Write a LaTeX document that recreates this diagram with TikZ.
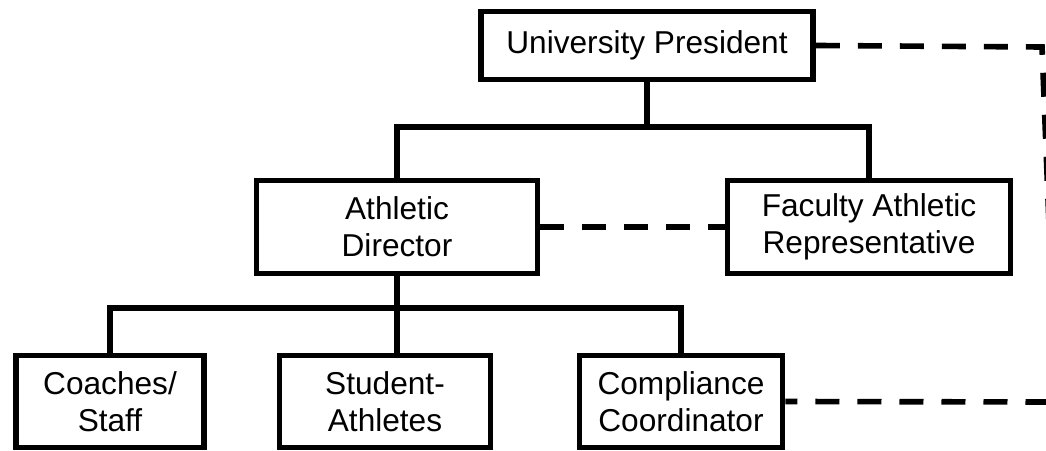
\documentclass[tikz,border=0pt]{standalone}
\usepackage{fontspec}
\setmainfont{Liberation Sans}
\usepackage{tikz}
\usetikzlibrary{positioning}

\tikzset{
    unit/.style={draw, line width=1.6pt, rectangle, align=center, inner sep=0pt,
                 font=\fontsize{9}{10.5}\selectfont},
    link/.style={line width=1.6pt, line cap=round},
    liaison/.style={line width=1.6pt, dash pattern=on 0.24cm off 0.18cm},
}

\begin{document}
\begin{tikzpicture}

\clip (0,0) rectangle (10.46,-4.51);

% ===========================
% Top: president
% ===========================
\node[unit, minimum width=3.32cm, minimum height=0.68cm] (pres) at (6.47,-0.455) {University President};

% ===========================
% Middle row
% ===========================
\node[unit, minimum width=2.81cm, minimum height=0.93cm] (ad) at (3.97,-2.27) {Athletic\\Director};
\node[unit, minimum width=2.83cm, minimum height=0.93cm] (far) at (8.69,-2.27) {Faculty Athletic\\Representative};

% ===========================
% Bottom row
% ===========================
\node[unit, minimum width=1.88cm, minimum height=0.92cm] (coach) at (1.10,-4.015) {Coaches/\\Staff};
\node[unit, minimum width=2.11cm, minimum height=0.92cm] (st) at (3.85,-4.015) {Student-\\Athletes};
\node[unit, minimum width=2.03cm, minimum height=0.92cm] (comp) at (6.81,-4.015) {Compliance\\Coordinator};

% Reporting lines
\coordinate (topbar) at (6.47,-1.27);
\draw[link] (pres.south) -- (topbar);
\draw[link] (ad.north) |- (topbar) -| (far.north);

\coordinate (lowbar) at (3.97,-3.08);
\draw[link] (ad.south) -- (ad.south |- st.north);
\draw[link] (coach.north) |- (lowbar) -| (comp.north);

% Dotted-line relationships
\draw[liaison] (ad.east) -- (far.west);

\coordinate (ptop) at (10.42,-0.47);
\coordinate (pbot) at (10.56,-4.02);
\draw[liaison] (pres.east) -- (ptop) -- (pbot) -- (comp.east);

\end{tikzpicture}
\end{document}
